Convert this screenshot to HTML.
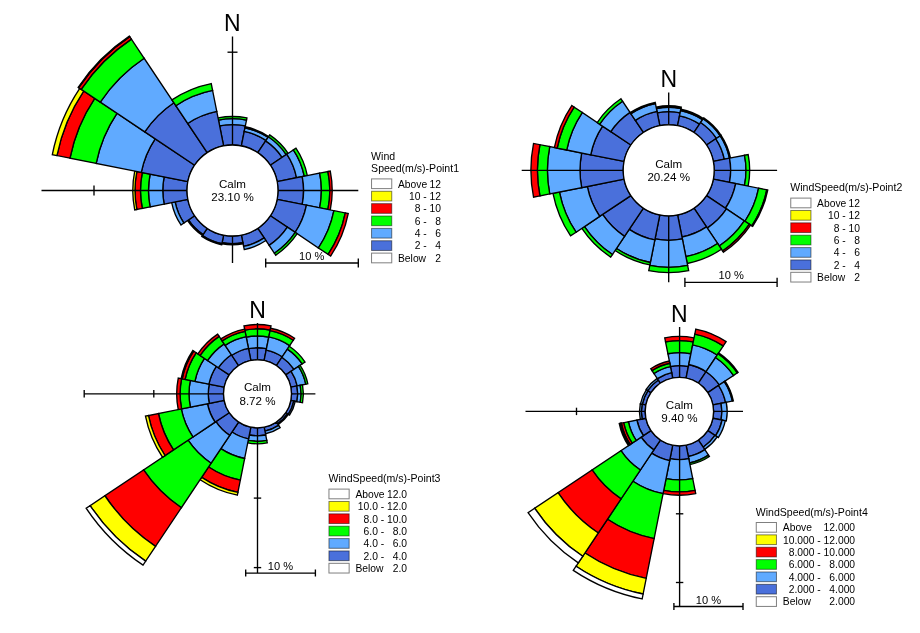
<!DOCTYPE html><html><head><meta charset="utf-8"><title>Wind roses</title>
<style>html,body{margin:0;padding:0;background:#fff}svg{display:block}</style></head><body>
<svg width="920" height="633" viewBox="0 0 920 633">
<rect width="920" height="633" fill="#fff"/>
<g stroke="#000" stroke-width="1.35" stroke-linejoin="miter" fill="none">
<path d="M223.62 145.87L219.66 125.96A65.80 65.80 0 0 1 245.34 125.96L241.38 145.87A45.50 45.50 0 0 0 223.62 145.87Z" fill="#4a70db"/>
<path d="M219.66 125.96L218.49 120.08A71.80 71.80 0 0 1 246.51 120.08L245.34 125.96A65.80 65.80 0 0 0 219.66 125.96Z" fill="#60aaff"/>
<path d="M218.49 120.08L218.06 117.92A74.00 74.00 0 0 1 246.94 117.92L246.51 120.08A71.80 71.80 0 0 0 218.49 120.08Z" fill="#00ff00"/>
<path d="M241.38 145.87L244.26 131.36A60.30 60.30 0 0 1 266.00 140.36L257.78 152.67A45.50 45.50 0 0 0 241.38 145.87Z" fill="#4a70db"/>
<path d="M244.26 131.36L244.99 127.73A64.00 64.00 0 0 1 268.06 137.29L266.00 140.36A60.30 60.30 0 0 0 244.26 131.36Z" fill="#60aaff"/>
<path d="M244.99 127.73L245.18 126.75A65.00 65.00 0 0 1 268.61 136.45L268.06 137.29A64.00 64.00 0 0 0 244.99 127.73Z" fill="#00ff00"/>
<path d="M257.78 152.67L265.67 140.86A59.70 59.70 0 0 1 282.14 157.33L270.33 165.22A45.50 45.50 0 0 0 257.78 152.67Z" fill="#4a70db"/>
<path d="M265.67 140.86L268.39 136.79A64.60 64.60 0 0 1 286.21 154.61L282.14 157.33A59.70 59.70 0 0 0 265.67 140.86Z" fill="#60aaff"/>
<path d="M268.39 136.79L269.67 134.87A66.90 66.90 0 0 1 288.13 153.33L286.21 154.61A64.60 64.60 0 0 0 268.39 136.79Z" fill="#00ff00"/>
<path d="M270.33 165.22L286.79 154.22A65.30 65.30 0 0 1 296.55 177.76L277.13 181.62A45.50 45.50 0 0 0 270.33 165.22Z" fill="#4a70db"/>
<path d="M286.79 154.22L293.36 149.83A73.20 73.20 0 0 1 304.29 176.22L296.55 177.76A65.30 65.30 0 0 0 286.79 154.22Z" fill="#60aaff"/>
<path d="M293.36 149.83L295.94 148.11A76.30 76.30 0 0 1 307.33 175.61L304.29 176.22A73.20 73.20 0 0 0 293.36 149.83Z" fill="#00ff00"/>
<path d="M277.13 181.62L302.23 176.63A71.10 71.10 0 0 1 302.23 204.37L277.13 199.38A45.50 45.50 0 0 0 277.13 181.62Z" fill="#4a70db"/>
<path d="M302.23 176.63L319.69 173.16A88.90 88.90 0 0 1 319.69 207.84L302.23 204.37A71.10 71.10 0 0 0 302.23 176.63Z" fill="#60aaff"/>
<path d="M319.69 173.16L327.93 171.52A97.30 97.30 0 0 1 327.93 209.48L319.69 207.84A88.90 88.90 0 0 0 319.69 173.16Z" fill="#00ff00"/>
<path d="M327.93 171.52L330.28 171.05A99.70 99.70 0 0 1 330.28 209.95L327.93 209.48A97.30 97.30 0 0 0 327.93 171.52Z" fill="#ff0000"/>
<path d="M277.13 199.38L306.45 205.21A75.40 75.40 0 0 1 295.19 232.39L270.33 215.78A45.50 45.50 0 0 0 277.13 199.38Z" fill="#4a70db"/>
<path d="M306.45 205.21L333.91 210.67A103.40 103.40 0 0 1 318.47 247.95L295.19 232.39A75.40 75.40 0 0 0 306.45 205.21Z" fill="#60aaff"/>
<path d="M333.91 210.67L345.29 212.94A115.00 115.00 0 0 1 328.12 254.39L318.47 247.95A103.40 103.40 0 0 0 333.91 210.67Z" fill="#00ff00"/>
<path d="M345.29 212.94L348.23 213.52A118.00 118.00 0 0 1 330.61 256.06L328.12 254.39A115.00 115.00 0 0 0 345.29 212.94Z" fill="#ff0000"/>
<path d="M270.33 215.78L287.38 227.17A66.00 66.00 0 0 1 269.17 245.38L257.78 228.33A45.50 45.50 0 0 0 270.33 215.78Z" fill="#4a70db"/>
<path d="M287.38 227.17L295.28 232.45A75.50 75.50 0 0 1 274.45 253.28L269.17 245.38A66.00 66.00 0 0 0 287.38 227.17Z" fill="#60aaff"/>
<path d="M295.28 232.45L297.19 233.72A77.80 77.80 0 0 1 275.72 255.19L274.45 253.28A75.50 75.50 0 0 0 295.28 232.45Z" fill="#00ff00"/>
<path d="M257.78 228.33L264.17 237.89A57.00 57.00 0 0 1 243.62 246.40L241.38 235.13A45.50 45.50 0 0 0 257.78 228.33Z" fill="#4a70db"/>
<path d="M264.17 237.89L265.95 240.55A60.20 60.20 0 0 1 244.24 249.54L243.62 246.40A57.00 57.00 0 0 0 264.17 237.89Z" fill="#60aaff"/>
<path d="M241.38 235.13L242.88 242.68A53.20 53.20 0 0 1 222.12 242.68L223.62 235.13A45.50 45.50 0 0 0 241.38 235.13Z" fill="#4a70db"/>
<path d="M242.88 242.68L243.11 243.85A54.40 54.40 0 0 1 221.89 243.85L222.12 242.68A53.20 53.20 0 0 0 242.88 242.68Z" fill="#60aaff"/>
<path d="M223.62 235.13L221.93 243.66A54.20 54.20 0 0 1 202.39 235.57L207.22 228.33A45.50 45.50 0 0 0 223.62 235.13Z" fill="#4a70db"/>
<path d="M221.93 243.66L221.71 244.74A55.30 55.30 0 0 1 201.78 236.48L202.39 235.57A54.20 54.20 0 0 0 221.93 243.66Z" fill="#60aaff"/>
<path d="M207.22 228.33L203.05 234.57A53.00 53.00 0 0 1 188.43 219.95L194.67 215.78A45.50 45.50 0 0 0 207.22 228.33Z" fill="#4a70db"/>
<path d="M203.05 234.57L202.50 235.40A54.00 54.00 0 0 1 187.60 220.50L188.43 219.95A53.00 53.00 0 0 0 203.05 234.57Z" fill="#60aaff"/>
<path d="M194.67 215.78L183.86 223.00A58.50 58.50 0 0 1 175.12 201.91L187.87 199.38A45.50 45.50 0 0 0 194.67 215.78Z" fill="#4a70db"/>
<path d="M183.86 223.00L180.95 224.95A62.00 62.00 0 0 1 171.69 202.60L175.12 201.91A58.50 58.50 0 0 0 183.86 223.00Z" fill="#60aaff"/>
<path d="M187.87 199.38L164.14 204.10A69.70 69.70 0 0 1 164.14 176.90L187.87 181.62A45.50 45.50 0 0 0 187.87 199.38Z" fill="#4a70db"/>
<path d="M164.14 204.10L150.11 206.89A84.00 84.00 0 0 1 150.11 174.11L164.14 176.90A69.70 69.70 0 0 0 164.14 204.10Z" fill="#60aaff"/>
<path d="M150.11 206.89L142.27 208.45A92.00 92.00 0 0 1 142.27 172.55L150.11 174.11A84.00 84.00 0 0 0 150.11 206.89Z" fill="#00ff00"/>
<path d="M142.27 208.45L136.87 209.52A97.50 97.50 0 0 1 136.87 171.48L142.27 172.55A92.00 92.00 0 0 0 142.27 208.45Z" fill="#ff0000"/>
<path d="M136.87 209.52L134.72 209.95A99.70 99.70 0 0 1 134.72 171.05L136.87 171.48A97.50 97.50 0 0 0 136.87 209.52Z" fill="#ffff00"/>
<path d="M187.87 181.62L141.29 172.36A93.00 93.00 0 0 1 155.17 138.83L194.67 165.22A45.50 45.50 0 0 0 187.87 181.62Z" fill="#4a70db"/>
<path d="M141.29 172.36L96.17 163.38A139.00 139.00 0 0 1 116.93 113.28L155.17 138.83A93.00 93.00 0 0 0 141.29 172.36Z" fill="#60aaff"/>
<path d="M96.17 163.38L69.98 158.17A165.70 165.70 0 0 1 94.73 98.44L116.93 113.28A139.00 139.00 0 0 0 96.17 163.38Z" fill="#00ff00"/>
<path d="M69.98 158.17L56.94 155.58A179.00 179.00 0 0 1 83.67 91.05L94.73 98.44A165.70 165.70 0 0 0 69.98 158.17Z" fill="#ff0000"/>
<path d="M56.94 155.58L52.33 154.66A183.70 183.70 0 0 1 79.76 88.44L83.67 91.05A179.00 179.00 0 0 0 56.94 155.58Z" fill="#ffff00"/>
<path d="M194.67 165.22L144.78 131.89A105.50 105.50 0 0 1 173.89 102.78L207.22 152.67A45.50 45.50 0 0 0 194.67 165.22Z" fill="#4a70db"/>
<path d="M144.78 131.89L100.30 102.16A159.00 159.00 0 0 1 144.16 58.30L173.89 102.78A105.50 105.50 0 0 0 144.78 131.89Z" fill="#60aaff"/>
<path d="M100.30 102.16L81.17 89.39A182.00 182.00 0 0 1 131.39 39.17L144.16 58.30A159.00 159.00 0 0 0 100.30 102.16Z" fill="#00ff00"/>
<path d="M81.17 89.39L78.68 87.72A185.00 185.00 0 0 1 129.72 36.68L131.39 39.17A182.00 182.00 0 0 0 81.17 89.39Z" fill="#ff0000"/>
<path d="M78.68 87.72L78.18 87.39A185.60 185.60 0 0 1 129.39 36.18L129.72 36.68A185.00 185.00 0 0 0 78.68 87.72Z" fill="#ffff00"/>
<path d="M207.22 152.67L187.72 123.48A80.60 80.60 0 0 1 216.78 111.45L223.62 145.87A45.50 45.50 0 0 0 207.22 152.67Z" fill="#4a70db"/>
<path d="M187.72 123.48L175.83 105.69A102.00 102.00 0 0 1 212.60 90.46L216.78 111.45A80.60 80.60 0 0 0 187.72 123.48Z" fill="#60aaff"/>
<path d="M175.83 105.69L171.94 99.87A109.00 109.00 0 0 1 211.24 83.59L212.60 90.46A102.00 102.00 0 0 0 175.83 105.69Z" fill="#00ff00"/>
<path d="M41.5 190.5H358.3M232.5 36.4V263"/>
<path d="M94 185.5V195.5"/>
<path d="M227.5 52.2H237.5"/>
<path d="M265.7 263.0H358.3M265.7 258.4V267.6M358.3 258.4V267.6"/>
<circle cx="232.5" cy="190.5" r="45.5" fill="#fff"/>
</g>
<g font-family="Liberation Sans, Arial, sans-serif" fill="#000" text-anchor="middle">
<text x="232.3" y="31.1" font-size="23">N</text>
<text x="232.5" y="187.9" font-size="11.6">Calm</text>
<text x="232.5" y="201.3" font-size="11.6">23.10 %</text>
<text x="311.7" y="260.0" font-size="11.1">10 %</text>
</g>
<g stroke="#000" stroke-width="1.35" stroke-linejoin="miter" fill="none">
<path d="M659.82 125.67L657.27 112.83A58.60 58.60 0 0 1 680.13 112.83L677.58 125.67A45.50 45.50 0 0 0 659.82 125.67Z" fill="#4a70db"/>
<path d="M657.27 112.83L656.41 108.51A63.00 63.00 0 0 1 680.99 108.51L680.13 112.83A58.60 58.60 0 0 0 657.27 112.83Z" fill="#60aaff"/>
<path d="M656.41 108.51L656.12 107.04A64.50 64.50 0 0 1 681.28 107.04L680.99 108.51A63.00 63.00 0 0 0 656.41 108.51Z" fill="#00ff00"/>
<path d="M677.58 125.67L679.53 115.87A55.50 55.50 0 0 1 699.53 124.15L693.98 132.47A45.50 45.50 0 0 0 677.58 125.67Z" fill="#4a70db"/>
<path d="M679.53 115.87L680.60 110.47A61.00 61.00 0 0 1 702.59 119.58L699.53 124.15A55.50 55.50 0 0 0 679.53 115.87Z" fill="#60aaff"/>
<path d="M680.60 110.47L680.85 109.20A62.30 62.30 0 0 1 703.31 118.50L702.59 119.58A61.00 61.00 0 0 0 680.60 110.47Z" fill="#00ff00"/>
<path d="M693.98 132.47L700.65 122.49A57.50 57.50 0 0 1 716.51 138.35L706.53 145.02A45.50 45.50 0 0 0 693.98 132.47Z" fill="#4a70db"/>
<path d="M700.65 122.49L703.15 118.75A62.00 62.00 0 0 1 720.25 135.85L716.51 138.35A57.50 57.50 0 0 0 700.65 122.49Z" fill="#60aaff"/>
<path d="M703.15 118.75L703.70 117.92A63.00 63.00 0 0 1 721.08 135.30L720.25 135.85A62.00 62.00 0 0 0 703.15 118.75Z" fill="#00ff00"/>
<path d="M706.53 145.02L715.84 138.80A56.70 56.70 0 0 1 724.31 159.24L713.33 161.42A45.50 45.50 0 0 0 706.53 145.02Z" fill="#4a70db"/>
<path d="M715.84 138.80L720.25 135.85A62.00 62.00 0 0 1 729.51 158.20L724.31 159.24A56.70 56.70 0 0 0 715.84 138.80Z" fill="#60aaff"/>
<path d="M720.25 135.85L721.08 135.30A63.00 63.00 0 0 1 730.49 158.01L729.51 158.20A62.00 62.00 0 0 0 720.25 135.85Z" fill="#00ff00"/>
<path d="M713.33 161.42L729.51 158.20A62.00 62.00 0 0 1 729.51 182.40L713.33 179.18A45.50 45.50 0 0 0 713.33 161.42Z" fill="#4a70db"/>
<path d="M729.51 158.20L744.51 155.22A77.30 77.30 0 0 1 744.51 185.38L729.51 182.40A62.00 62.00 0 0 0 729.51 158.20Z" fill="#60aaff"/>
<path d="M744.51 155.22L748.14 154.50A81.00 81.00 0 0 1 748.14 186.10L744.51 185.38A77.30 77.30 0 0 0 744.51 155.22Z" fill="#00ff00"/>
<path d="M713.33 179.18L735.69 183.62A68.30 68.30 0 0 1 725.49 208.25L706.53 195.58A45.50 45.50 0 0 0 713.33 179.18Z" fill="#4a70db"/>
<path d="M735.69 183.62L758.64 188.19A91.70 91.70 0 0 1 744.95 221.25L725.49 208.25A68.30 68.30 0 0 0 735.69 183.62Z" fill="#60aaff"/>
<path d="M758.64 188.19L766.78 189.81A100.00 100.00 0 0 1 751.85 225.86L744.95 221.25A91.70 91.70 0 0 0 758.64 188.19Z" fill="#00ff00"/>
<path d="M766.78 189.81L767.76 190.00A101.00 101.00 0 0 1 752.68 226.41L751.85 225.86A100.00 100.00 0 0 0 766.78 189.81Z" fill="#ff0000"/>
<path d="M706.53 195.58L726.49 208.91A69.50 69.50 0 0 1 707.31 228.09L693.98 208.13A45.50 45.50 0 0 0 706.53 195.58Z" fill="#4a70db"/>
<path d="M726.49 208.91L744.36 220.86A91.00 91.00 0 0 1 719.26 245.96L707.31 228.09A69.50 69.50 0 0 0 726.49 208.91Z" fill="#60aaff"/>
<path d="M744.36 220.86L749.35 224.19A97.00 97.00 0 0 1 722.59 250.95L719.26 245.96A91.00 91.00 0 0 0 744.36 220.86Z" fill="#00ff00"/>
<path d="M749.35 224.19L750.60 225.02A98.50 98.50 0 0 1 723.42 252.20L722.59 250.95A97.00 97.00 0 0 0 749.35 224.19Z" fill="#ff0000"/>
<path d="M693.98 208.13L706.48 226.84A68.00 68.00 0 0 1 681.97 236.99L677.58 214.93A45.50 45.50 0 0 0 693.98 208.13Z" fill="#4a70db"/>
<path d="M706.48 226.84L717.59 243.47A88.00 88.00 0 0 1 685.87 256.61L681.97 236.99A68.00 68.00 0 0 0 706.48 226.84Z" fill="#60aaff"/>
<path d="M717.59 243.47L721.48 249.29A95.00 95.00 0 0 1 687.23 263.47L685.87 256.61A88.00 88.00 0 0 0 717.59 243.47Z" fill="#00ff00"/>
<path d="M677.58 214.93L682.36 238.95A70.00 70.00 0 0 1 655.04 238.95L659.82 214.93A45.50 45.50 0 0 0 677.58 214.93Z" fill="#4a70db"/>
<path d="M682.36 238.95L687.62 265.44A97.00 97.00 0 0 1 649.78 265.44L655.04 238.95A70.00 70.00 0 0 0 682.36 238.95Z" fill="#60aaff"/>
<path d="M687.62 265.44L688.66 270.63A102.30 102.30 0 0 1 648.74 270.63L649.78 265.44A97.00 97.00 0 0 0 687.62 265.44Z" fill="#00ff00"/>
<path d="M659.82 214.93L654.85 239.94A71.00 71.00 0 0 1 629.25 229.33L643.42 208.13A45.50 45.50 0 0 0 659.82 214.93Z" fill="#4a70db"/>
<path d="M654.85 239.94L650.36 262.49A94.00 94.00 0 0 1 616.48 248.46L629.25 229.33A71.00 71.00 0 0 0 654.85 239.94Z" fill="#60aaff"/>
<path d="M650.36 262.49L649.87 264.95A96.50 96.50 0 0 1 615.09 250.54L616.48 248.46A94.00 94.00 0 0 0 650.36 262.49Z" fill="#00ff00"/>
<path d="M643.42 208.13L624.53 236.40A79.50 79.50 0 0 1 602.60 214.47L630.87 195.58A45.50 45.50 0 0 0 643.42 208.13Z" fill="#4a70db"/>
<path d="M624.53 236.40L612.42 254.53A101.30 101.30 0 0 1 584.47 226.58L602.60 214.47A79.50 79.50 0 0 0 624.53 236.40Z" fill="#60aaff"/>
<path d="M612.42 254.53L610.70 257.11A104.40 104.40 0 0 1 581.89 228.30L584.47 226.58A101.30 101.30 0 0 0 612.42 254.53Z" fill="#00ff00"/>
<path d="M630.87 195.58L599.69 216.41A83.00 83.00 0 0 1 587.29 186.49L624.07 179.18A45.50 45.50 0 0 0 630.87 195.58Z" fill="#4a70db"/>
<path d="M599.69 216.41L576.07 232.19A111.40 111.40 0 0 1 559.44 192.03L587.29 186.49A83.00 83.00 0 0 0 599.69 216.41Z" fill="#60aaff"/>
<path d="M576.07 232.19L570.59 235.86A118.00 118.00 0 0 1 552.97 193.32L559.44 192.03A111.40 111.40 0 0 0 576.07 232.19Z" fill="#00ff00"/>
<path d="M624.07 179.18L581.70 187.60A88.70 88.70 0 0 1 581.70 153.00L624.07 161.42A45.50 45.50 0 0 0 624.07 179.18Z" fill="#4a70db"/>
<path d="M581.70 187.60L549.73 193.96A121.30 121.30 0 0 1 549.73 146.64L581.70 153.00A88.70 88.70 0 0 0 581.70 187.60Z" fill="#60aaff"/>
<path d="M549.73 193.96L539.92 195.92A131.30 131.30 0 0 1 539.92 144.68L549.73 146.64A121.30 121.30 0 0 0 549.73 193.96Z" fill="#00ff00"/>
<path d="M539.92 195.92L533.55 197.18A137.80 137.80 0 0 1 533.55 143.42L539.92 144.68A131.30 131.30 0 0 0 539.92 195.92Z" fill="#ff0000"/>
<path d="M624.07 161.42L590.73 154.79A79.50 79.50 0 0 1 602.60 126.13L630.87 145.02A45.50 45.50 0 0 0 624.07 161.42Z" fill="#4a70db"/>
<path d="M590.73 154.79L566.70 150.01A104.00 104.00 0 0 1 582.23 112.52L602.60 126.13A79.50 79.50 0 0 0 590.73 154.79Z" fill="#60aaff"/>
<path d="M566.70 150.01L557.18 148.12A113.70 113.70 0 0 1 574.16 107.13L582.23 112.52A104.00 104.00 0 0 0 566.70 150.01Z" fill="#00ff00"/>
<path d="M557.18 148.12L554.34 147.55A116.60 116.60 0 0 1 571.75 105.52L574.16 107.13A113.70 113.70 0 0 0 557.18 148.12Z" fill="#ff0000"/>
<path d="M630.87 145.02L610.75 131.58A69.70 69.70 0 0 1 629.98 112.35L643.42 132.47A45.50 45.50 0 0 0 630.87 145.02Z" fill="#4a70db"/>
<path d="M610.75 131.58L599.69 124.19A83.00 83.00 0 0 1 622.59 101.29L629.98 112.35A69.70 69.70 0 0 0 610.75 131.58Z" fill="#60aaff"/>
<path d="M599.69 124.19L597.19 122.52A86.00 86.00 0 0 1 620.92 98.79L622.59 101.29A83.00 83.00 0 0 0 599.69 124.19Z" fill="#00ff00"/>
<path d="M643.42 132.47L635.37 120.41A60.00 60.00 0 0 1 656.99 111.45L659.82 125.67A45.50 45.50 0 0 0 643.42 132.47Z" fill="#4a70db"/>
<path d="M635.37 120.41L630.92 113.76A68.00 68.00 0 0 1 655.43 103.61L656.99 111.45A60.00 60.00 0 0 0 635.37 120.41Z" fill="#60aaff"/>
<path d="M630.92 113.76L630.20 112.68A69.30 69.30 0 0 1 655.18 102.33L655.43 103.61A68.00 68.00 0 0 0 630.92 113.76Z" fill="#00ff00"/>
<path d="M521.7 170.3H777.1M668.7 92.6V282.3"/>
<path d="M684.9 282.3H777.1M684.9 277.7V286.90000000000003M777.1 277.7V286.90000000000003"/>
<circle cx="668.7" cy="170.3" r="45.5" fill="#fff"/>
</g>
<g font-family="Liberation Sans, Arial, sans-serif" fill="#000" text-anchor="middle">
<text x="668.8" y="86.7" font-size="23">N</text>
<text x="668.7" y="167.7" font-size="11.6">Calm</text>
<text x="668.7" y="181.1" font-size="11.6">20.24 %</text>
<text x="731.2" y="279.4" font-size="11.1">10 %</text>
</g>
<g stroke="#000" stroke-width="1.35" stroke-linejoin="miter" fill="none">
<path d="M250.87 360.45L248.53 348.68A46.00 46.00 0 0 1 266.47 348.68L264.13 360.45A34.00 34.00 0 0 0 250.87 360.45Z" fill="#4a70db"/>
<path d="M248.53 348.68L246.22 337.11A57.80 57.80 0 0 1 268.78 337.11L266.47 348.68A46.00 46.00 0 0 0 248.53 348.68Z" fill="#60aaff"/>
<path d="M246.22 337.11L244.82 330.05A65.00 65.00 0 0 1 270.18 330.05L268.78 337.11A57.80 57.80 0 0 0 246.22 337.11Z" fill="#00ff00"/>
<path d="M244.82 330.05L243.98 325.83A69.30 69.30 0 0 1 271.02 325.83L270.18 330.05A65.00 65.00 0 0 0 244.82 330.05Z" fill="#ff0000"/>
<path d="M264.13 360.45L266.18 350.16A44.50 44.50 0 0 1 282.22 356.80L276.39 365.53A34.00 34.00 0 0 0 264.13 360.45Z" fill="#4a70db"/>
<path d="M266.18 350.16L268.82 336.91A58.00 58.00 0 0 1 289.72 345.57L282.22 356.80A44.50 44.50 0 0 0 266.18 350.16Z" fill="#60aaff"/>
<path d="M268.82 336.91L270.06 330.64A64.40 64.40 0 0 1 293.28 340.25L289.72 345.57A58.00 58.00 0 0 0 268.82 336.91Z" fill="#00ff00"/>
<path d="M270.06 330.64L270.53 328.28A66.80 66.80 0 0 1 294.61 338.26L293.28 340.25A64.40 64.40 0 0 0 270.06 330.64Z" fill="#ff0000"/>
<path d="M276.39 365.53L281.95 357.22A44.00 44.00 0 0 1 294.08 369.35L285.77 374.91A34.00 34.00 0 0 0 276.39 365.53Z" fill="#4a70db"/>
<path d="M281.95 357.22L287.39 349.07A53.80 53.80 0 0 1 302.23 363.91L294.08 369.35A44.00 44.00 0 0 0 281.95 357.22Z" fill="#60aaff"/>
<path d="M287.39 349.07L289.28 346.24A57.20 57.20 0 0 1 305.06 362.02L302.23 363.91A53.80 53.80 0 0 0 287.39 349.07Z" fill="#00ff00"/>
<path d="M285.77 374.91L291.17 371.30A40.50 40.50 0 0 1 297.22 385.90L290.85 387.17A34.00 34.00 0 0 0 285.77 374.91Z" fill="#4a70db"/>
<path d="M291.17 371.30L298.41 366.47A49.20 49.20 0 0 1 305.75 384.20L297.22 385.90A40.50 40.50 0 0 0 291.17 371.30Z" fill="#60aaff"/>
<path d="M298.41 366.47L300.15 365.30A51.30 51.30 0 0 1 307.81 383.79L305.75 384.20A49.20 49.20 0 0 0 298.41 366.47Z" fill="#00ff00"/>
<path d="M290.85 387.17L296.93 385.96A40.20 40.20 0 0 1 296.93 401.64L290.85 400.43A34.00 34.00 0 0 0 290.85 387.17Z" fill="#4a70db"/>
<path d="M296.93 385.96L300.26 385.29A43.60 43.60 0 0 1 300.26 402.31L296.93 401.64A40.20 40.20 0 0 0 296.93 385.96Z" fill="#60aaff"/>
<path d="M300.26 385.29L302.52 384.85A45.90 45.90 0 0 1 302.52 402.75L300.26 402.31A43.60 43.60 0 0 0 300.26 385.29Z" fill="#00ff00"/>
<path d="M290.85 400.43L293.79 401.02A37.00 37.00 0 0 1 288.26 414.36L285.77 412.69A34.00 34.00 0 0 0 290.85 400.43Z" fill="#4a70db"/>
<path d="M293.79 401.02L295.26 401.31A38.50 38.50 0 0 1 289.51 415.19L288.26 414.36A37.00 37.00 0 0 0 293.79 401.02Z" fill="#60aaff"/>
<path d="M285.77 412.69L287.43 413.80A36.00 36.00 0 0 1 277.50 423.73L276.39 422.07A34.00 34.00 0 0 0 285.77 412.69Z" fill="#4a70db"/>
<path d="M287.43 413.80L288.43 414.47A37.20 37.20 0 0 1 278.17 424.73L277.50 423.73A36.00 36.00 0 0 0 287.43 413.80Z" fill="#60aaff"/>
<path d="M276.39 422.07L278.61 425.40A38.00 38.00 0 0 1 264.91 431.07L264.13 427.15A34.00 34.00 0 0 0 276.39 422.07Z" fill="#4a70db"/>
<path d="M278.61 425.40L280.11 427.64A40.70 40.70 0 0 1 265.44 433.72L264.91 431.07A38.00 38.00 0 0 0 278.61 425.40Z" fill="#60aaff"/>
<path d="M264.13 427.15L265.69 434.99A42.00 42.00 0 0 1 249.31 434.99L250.87 427.15A34.00 34.00 0 0 0 264.13 427.15Z" fill="#4a70db"/>
<path d="M265.69 434.99L266.77 440.39A47.50 47.50 0 0 1 248.23 440.39L249.31 434.99A42.00 42.00 0 0 0 265.69 434.99Z" fill="#60aaff"/>
<path d="M266.77 440.39L267.25 442.84A50.00 50.00 0 0 1 247.75 442.84L248.23 440.39A47.50 47.50 0 0 0 266.77 440.39Z" fill="#00ff00"/>
<path d="M250.87 427.15L248.53 438.92A46.00 46.00 0 0 1 231.94 432.05L238.61 422.07A34.00 34.00 0 0 0 250.87 427.15Z" fill="#4a70db"/>
<path d="M248.53 438.92L244.62 458.53A66.00 66.00 0 0 1 220.83 448.68L231.94 432.05A46.00 46.00 0 0 0 248.53 438.92Z" fill="#60aaff"/>
<path d="M244.62 458.53L240.33 480.11A88.00 88.00 0 0 1 208.61 466.97L220.83 448.68A66.00 66.00 0 0 0 244.62 458.53Z" fill="#00ff00"/>
<path d="M240.33 480.11L237.89 492.37A100.50 100.50 0 0 1 201.67 477.36L208.61 466.97A88.00 88.00 0 0 0 240.33 480.11Z" fill="#ff0000"/>
<path d="M237.89 492.37L237.35 495.12A103.30 103.30 0 0 1 200.11 479.69L201.67 477.36A100.50 100.50 0 0 0 237.89 492.37Z" fill="#ffff00"/>
<path d="M238.61 422.07L229.72 435.37A50.00 50.00 0 0 1 215.93 421.58L229.23 412.69A34.00 34.00 0 0 0 238.61 422.07Z" fill="#4a70db"/>
<path d="M229.72 435.37L211.11 463.23A83.50 83.50 0 0 1 188.07 440.19L215.93 421.58A50.00 50.00 0 0 0 229.72 435.37Z" fill="#60aaff"/>
<path d="M211.11 463.23L181.39 507.71A137.00 137.00 0 0 1 143.59 469.91L188.07 440.19A83.50 83.50 0 0 0 211.11 463.23Z" fill="#00ff00"/>
<path d="M181.39 507.71L155.55 546.37A183.50 183.50 0 0 1 104.93 495.75L143.59 469.91A137.00 137.00 0 0 0 181.39 507.71Z" fill="#ff0000"/>
<path d="M155.55 546.37L145.66 561.17A201.30 201.30 0 0 1 90.13 505.64L104.93 495.75A183.50 183.50 0 0 0 155.55 546.37Z" fill="#ffff00"/>
<path d="M145.66 561.17L143.05 565.08A206.00 206.00 0 0 1 86.22 508.25L90.13 505.64A201.30 201.30 0 0 0 145.66 561.17Z" fill="#ffffff"/>
<path d="M229.23 412.69L215.10 422.13A51.00 51.00 0 0 1 207.48 403.75L224.15 400.43A34.00 34.00 0 0 0 229.23 412.69Z" fill="#4a70db"/>
<path d="M215.10 422.13L192.89 436.97A77.70 77.70 0 0 1 181.29 408.96L207.48 403.75A51.00 51.00 0 0 0 215.10 422.13Z" fill="#60aaff"/>
<path d="M192.89 436.97L173.52 449.91A101.00 101.00 0 0 1 158.44 413.50L181.29 408.96A77.70 77.70 0 0 0 192.89 436.97Z" fill="#00ff00"/>
<path d="M173.52 449.91L165.04 455.58A111.20 111.20 0 0 1 148.44 415.49L158.44 413.50A101.00 101.00 0 0 0 173.52 449.91Z" fill="#ff0000"/>
<path d="M165.04 455.58L162.55 457.25A114.20 114.20 0 0 1 145.49 416.08L148.44 415.49A111.20 111.20 0 0 0 165.04 455.58Z" fill="#ffff00"/>
<path d="M224.15 400.43L209.25 403.40A49.20 49.20 0 0 1 209.25 384.20L224.15 387.17A34.00 34.00 0 0 0 224.15 400.43Z" fill="#4a70db"/>
<path d="M209.25 403.40L190.32 407.16A68.50 68.50 0 0 1 190.32 380.44L209.25 384.20A49.20 49.20 0 0 0 209.25 403.40Z" fill="#60aaff"/>
<path d="M190.32 407.16L181.59 408.90A77.40 77.40 0 0 1 181.59 378.70L190.32 380.44A68.50 68.50 0 0 0 190.32 407.16Z" fill="#00ff00"/>
<path d="M181.59 408.90L178.25 409.56A80.80 80.80 0 0 1 178.25 378.04L181.59 378.70A77.40 77.40 0 0 0 181.59 408.90Z" fill="#ff0000"/>
<path d="M224.15 387.17L208.95 384.14A49.50 49.50 0 0 1 216.34 366.30L229.23 374.91A34.00 34.00 0 0 0 224.15 387.17Z" fill="#4a70db"/>
<path d="M208.95 384.14L194.93 381.35A63.80 63.80 0 0 1 204.45 358.35L216.34 366.30A49.50 49.50 0 0 0 208.95 384.14Z" fill="#60aaff"/>
<path d="M194.93 381.35L185.12 379.40A73.80 73.80 0 0 1 196.14 352.80L204.45 358.35A63.80 63.80 0 0 0 194.93 381.35Z" fill="#00ff00"/>
<path d="M185.12 379.40L182.18 378.82A76.80 76.80 0 0 1 193.64 351.13L196.14 352.80A73.80 73.80 0 0 0 185.12 379.40Z" fill="#ff0000"/>
<path d="M182.18 378.82L181.10 378.60A77.90 77.90 0 0 1 192.73 350.52L193.64 351.13A76.80 76.80 0 0 0 182.18 378.82Z" fill="#ffff00"/>
<path d="M229.23 374.91L218.42 367.69A47.00 47.00 0 0 1 231.39 354.72L238.61 365.53A34.00 34.00 0 0 0 229.23 374.91Z" fill="#4a70db"/>
<path d="M218.42 367.69L207.61 360.47A60.00 60.00 0 0 1 224.17 343.91L231.39 354.72A47.00 47.00 0 0 0 218.42 367.69Z" fill="#60aaff"/>
<path d="M207.61 360.47L200.13 355.47A69.00 69.00 0 0 1 219.17 336.43L224.17 343.91A60.00 60.00 0 0 0 207.61 360.47Z" fill="#00ff00"/>
<path d="M200.13 355.47L197.88 353.97A71.70 71.70 0 0 1 217.67 334.18L219.17 336.43A69.00 69.00 0 0 0 200.13 355.47Z" fill="#ff0000"/>
<path d="M238.61 365.53L231.78 355.30A46.30 46.30 0 0 1 248.47 348.39L250.87 360.45A34.00 34.00 0 0 0 238.61 365.53Z" fill="#4a70db"/>
<path d="M231.78 355.30L225.11 345.33A58.30 58.30 0 0 1 246.13 336.62L248.47 348.39A46.30 46.30 0 0 0 231.78 355.30Z" fill="#60aaff"/>
<path d="M225.11 345.33L222.11 340.84A63.70 63.70 0 0 1 245.07 331.32L246.13 336.62A58.30 58.30 0 0 0 225.11 345.33Z" fill="#00ff00"/>
<path d="M222.11 340.84L220.83 338.92A66.00 66.00 0 0 1 244.62 329.07L245.07 331.32A63.70 63.70 0 0 0 222.11 340.84Z" fill="#ff0000"/>
<path d="M84.2 393.8H315.4M257.5 323.1V573.1"/>
<path d="M84.2 390.1V397.5"/>
<path d="M153.8 390.1V397.5"/>
<path d="M253.8 498.1H261.2"/>
<path d="M253.8 567.6H261.2"/>
<path d="M245.7 573.1H315.4M245.7 569.6V576.6M315.4 569.6V576.6"/>
<circle cx="257.5" cy="393.8" r="34" fill="#fff"/>
</g>
<g font-family="Liberation Sans, Arial, sans-serif" fill="#000" text-anchor="middle">
<text x="257.6" y="317.6" font-size="23">N</text>
<text x="257.5" y="391.2" font-size="11.6">Calm</text>
<text x="257.5" y="404.6" font-size="11.6">8.72 %</text>
<text x="280.4" y="570.2" font-size="11.1">10 %</text>
</g>
<g stroke="#000" stroke-width="1.35" stroke-linejoin="miter" fill="none">
<path d="M672.73 378.06L670.43 366.48A46.00 46.00 0 0 1 688.37 366.48L686.07 378.06A34.20 34.20 0 0 0 672.73 378.06Z" fill="#4a70db"/>
<path d="M670.43 366.48L667.89 353.73A59.00 59.00 0 0 1 690.91 353.73L688.37 366.48A46.00 46.00 0 0 0 670.43 366.48Z" fill="#60aaff"/>
<path d="M667.89 353.73L665.55 341.96A71.00 71.00 0 0 1 693.25 341.96L690.91 353.73A59.00 59.00 0 0 0 667.89 353.73Z" fill="#00ff00"/>
<path d="M665.55 341.96L664.73 337.84A75.20 75.20 0 0 1 694.07 337.84L693.25 341.96A71.00 71.00 0 0 0 665.55 341.96Z" fill="#ff0000"/>
<path d="M686.07 378.06L688.76 364.52A48.00 48.00 0 0 1 706.07 371.69L698.40 383.16A34.20 34.20 0 0 0 686.07 378.06Z" fill="#4a70db"/>
<path d="M688.76 364.52L692.67 344.91A68.00 68.00 0 0 1 717.18 355.06L706.07 371.69A48.00 48.00 0 0 0 688.76 364.52Z" fill="#60aaff"/>
<path d="M692.67 344.91L694.81 334.12A79.00 79.00 0 0 1 723.29 345.91L717.18 355.06A68.00 68.00 0 0 0 692.67 344.91Z" fill="#00ff00"/>
<path d="M694.81 334.12L695.81 329.12A84.10 84.10 0 0 1 726.12 341.67L723.29 345.91A79.00 79.00 0 0 0 694.81 334.12Z" fill="#ff0000"/>
<path d="M698.40 383.16L706.07 371.69A48.00 48.00 0 0 1 719.31 384.93L707.84 392.60A34.20 34.20 0 0 0 698.40 383.16Z" fill="#4a70db"/>
<path d="M706.07 371.69L715.51 357.55A65.00 65.00 0 0 1 733.45 375.49L719.31 384.93A48.00 48.00 0 0 0 706.07 371.69Z" fill="#60aaff"/>
<path d="M715.51 357.55L718.07 353.73A69.60 69.60 0 0 1 737.27 372.93L733.45 375.49A65.00 65.00 0 0 0 715.51 357.55Z" fill="#00ff00"/>
<path d="M718.07 353.73L718.62 352.90A70.60 70.60 0 0 1 738.10 372.38L737.27 372.93A69.60 69.60 0 0 0 718.07 353.73Z" fill="#ff0000"/>
<path d="M707.84 392.60L718.48 385.49A47.00 47.00 0 0 1 725.50 402.43L712.94 404.93A34.20 34.20 0 0 0 707.84 392.60Z" fill="#4a70db"/>
<path d="M718.48 385.49L724.30 381.60A54.00 54.00 0 0 1 732.36 401.07L725.50 402.43A47.00 47.00 0 0 0 718.48 385.49Z" fill="#60aaff"/>
<path d="M724.30 381.60L725.13 381.04A55.00 55.00 0 0 1 733.34 400.87L732.36 401.07A54.00 54.00 0 0 0 724.30 381.60Z" fill="#00ff00"/>
<path d="M712.94 404.93L721.08 403.31A42.50 42.50 0 0 1 721.08 419.89L712.94 418.27A34.20 34.20 0 0 0 712.94 404.93Z" fill="#4a70db"/>
<path d="M721.08 403.31L726.28 402.27A47.80 47.80 0 0 1 726.28 420.93L721.08 419.89A42.50 42.50 0 0 0 721.08 403.31Z" fill="#60aaff"/>
<path d="M712.94 418.27L722.06 420.09A43.50 43.50 0 0 1 715.57 435.77L707.84 430.60A34.20 34.20 0 0 0 712.94 418.27Z" fill="#4a70db"/>
<path d="M722.06 420.09L725.30 420.73A46.80 46.80 0 0 1 718.31 437.60L715.57 435.77A43.50 43.50 0 0 0 722.06 420.09Z" fill="#60aaff"/>
<path d="M707.84 430.60L714.99 435.38A42.80 42.80 0 0 1 703.18 447.19L698.40 440.04A34.20 34.20 0 0 0 707.84 430.60Z" fill="#4a70db"/>
<path d="M714.99 435.38L717.23 436.88A45.50 45.50 0 0 1 704.68 449.43L703.18 447.19A42.80 42.80 0 0 0 714.99 435.38Z" fill="#60aaff"/>
<path d="M698.40 440.04L704.85 449.68A45.80 45.80 0 0 1 688.34 456.52L686.07 445.14A34.20 34.20 0 0 0 698.40 440.04Z" fill="#4a70db"/>
<path d="M704.85 449.68L708.46 455.09A52.30 52.30 0 0 1 689.60 462.90L688.34 456.52A45.80 45.80 0 0 0 704.85 449.68Z" fill="#60aaff"/>
<path d="M708.46 455.09L709.40 456.50A54.00 54.00 0 0 1 689.93 464.56L689.60 462.90A52.30 52.30 0 0 0 708.46 455.09Z" fill="#00ff00"/>
<path d="M686.07 445.14L688.76 458.68A48.00 48.00 0 0 1 670.04 458.68L672.73 445.14A34.20 34.20 0 0 0 686.07 445.14Z" fill="#4a70db"/>
<path d="M688.76 458.68L692.72 478.59A68.30 68.30 0 0 1 666.08 478.59L670.04 458.68A48.00 48.00 0 0 0 688.76 458.68Z" fill="#60aaff"/>
<path d="M692.72 478.59L695.07 490.36A80.30 80.30 0 0 1 663.73 490.36L666.08 478.59A68.30 68.30 0 0 0 692.72 478.59Z" fill="#00ff00"/>
<path d="M695.07 490.36L695.71 493.59A83.60 83.60 0 0 1 663.09 493.59L663.73 490.36A80.30 80.30 0 0 0 695.07 490.36Z" fill="#ff0000"/>
<path d="M672.73 445.14L669.65 460.64A50.00 50.00 0 0 1 651.62 453.17L660.40 440.04A34.20 34.20 0 0 0 672.73 445.14Z" fill="#4a70db"/>
<path d="M669.65 460.64L663.07 493.69A83.70 83.70 0 0 1 632.90 481.19L651.62 453.17A50.00 50.00 0 0 0 669.65 460.64Z" fill="#60aaff"/>
<path d="M663.07 493.69L654.14 538.61A129.50 129.50 0 0 1 607.45 519.28L632.90 481.19A83.70 83.70 0 0 0 663.07 493.69Z" fill="#00ff00"/>
<path d="M654.14 538.61L646.23 578.33A170.00 170.00 0 0 1 584.95 552.95L607.45 519.28A129.50 129.50 0 0 0 654.14 538.61Z" fill="#ff0000"/>
<path d="M646.23 578.33L643.11 594.03A186.00 186.00 0 0 1 576.06 566.25L584.95 552.95A170.00 170.00 0 0 0 646.23 578.33Z" fill="#ffff00"/>
<path d="M643.11 594.03L642.14 598.93A191.00 191.00 0 0 1 573.29 570.41L576.06 566.25A186.00 186.00 0 0 0 643.11 594.03Z" fill="#ffffff"/>
<path d="M660.40 440.04L653.84 449.85A46.00 46.00 0 0 1 641.15 437.16L650.96 430.60A34.20 34.20 0 0 0 660.40 440.04Z" fill="#4a70db"/>
<path d="M653.84 449.85L640.34 470.05A70.30 70.30 0 0 1 620.95 450.66L641.15 437.16A46.00 46.00 0 0 0 653.84 449.85Z" fill="#60aaff"/>
<path d="M640.34 470.05L621.07 498.90A105.00 105.00 0 0 1 592.10 469.93L620.95 450.66A70.30 70.30 0 0 0 640.34 470.05Z" fill="#00ff00"/>
<path d="M621.07 498.90L598.29 532.99A146.00 146.00 0 0 1 558.01 492.71L592.10 469.93A105.00 105.00 0 0 0 621.07 498.90Z" fill="#ff0000"/>
<path d="M598.29 532.99L582.73 556.28A174.00 174.00 0 0 1 534.72 508.27L558.01 492.71A146.00 146.00 0 0 0 598.29 532.99Z" fill="#ffff00"/>
<path d="M582.73 556.28L578.29 562.93A182.00 182.00 0 0 1 528.07 512.71L534.72 508.27A174.00 174.00 0 0 0 582.73 556.28Z" fill="#ffffff"/>
<path d="M650.96 430.60L643.40 435.66A43.30 43.30 0 0 1 636.93 420.05L645.86 418.27A34.20 34.20 0 0 0 650.96 430.60Z" fill="#4a70db"/>
<path d="M643.40 435.66L636.16 440.49A52.00 52.00 0 0 1 628.40 421.74L636.93 420.05A43.30 43.30 0 0 0 643.40 435.66Z" fill="#60aaff"/>
<path d="M636.16 440.49L632.17 443.16A56.80 56.80 0 0 1 623.69 422.68L628.40 421.74A52.00 52.00 0 0 0 636.16 440.49Z" fill="#00ff00"/>
<path d="M632.17 443.16L630.18 444.49A59.20 59.20 0 0 1 621.34 423.15L623.69 422.68A56.80 56.80 0 0 0 632.17 443.16Z" fill="#ff0000"/>
<path d="M630.18 444.49L629.35 445.05A60.20 60.20 0 0 1 620.36 423.34L621.34 423.15A59.20 59.20 0 0 0 630.18 444.49Z" fill="#ffff00"/>
<path d="M629.35 445.05L628.43 445.66A61.30 61.30 0 0 1 619.28 423.56L620.36 423.34A60.20 60.20 0 0 0 629.35 445.05Z" fill="#ffffff"/>
<path d="M645.86 418.27L642.13 419.01A38.00 38.00 0 0 1 642.13 404.19L645.86 404.93A34.20 34.20 0 0 0 645.86 418.27Z" fill="#4a70db"/>
<path d="M642.13 419.01L640.27 419.38A39.90 39.90 0 0 1 640.27 403.82L642.13 404.19A38.00 38.00 0 0 0 642.13 419.01Z" fill="#60aaff"/>
<path d="M645.86 404.93L642.33 404.23A37.80 37.80 0 0 1 647.97 390.60L650.96 392.60A34.20 34.20 0 0 0 645.86 404.93Z" fill="#4a70db"/>
<path d="M642.33 404.23L640.46 403.85A39.70 39.70 0 0 1 646.39 389.54L647.97 390.60A37.80 37.80 0 0 0 642.33 404.23Z" fill="#60aaff"/>
<path d="M650.96 392.60L647.80 390.49A38.00 38.00 0 0 1 658.29 380.00L660.40 383.16A34.20 34.20 0 0 0 650.96 392.60Z" fill="#4a70db"/>
<path d="M647.80 390.49L646.14 389.38A40.00 40.00 0 0 1 657.18 378.34L658.29 380.00A38.00 38.00 0 0 0 647.80 390.49Z" fill="#60aaff"/>
<path d="M660.40 383.16L657.34 378.59A39.70 39.70 0 0 1 671.65 372.66L672.73 378.06A34.20 34.20 0 0 0 660.40 383.16Z" fill="#4a70db"/>
<path d="M657.34 378.59L653.95 373.52A45.80 45.80 0 0 1 670.46 366.68L671.65 372.66A39.70 39.70 0 0 0 657.34 378.59Z" fill="#60aaff"/>
<path d="M653.95 373.52L652.01 370.61A49.30 49.30 0 0 1 669.78 363.25L670.46 366.68A45.80 45.80 0 0 0 653.95 373.52Z" fill="#00ff00"/>
<path d="M652.01 370.61L650.73 368.70A51.60 51.60 0 0 1 669.33 360.99L669.78 363.25A49.30 49.30 0 0 0 652.01 370.61Z" fill="#ff0000"/>
<path d="M525.5 411.4H743M679.6 327.1V606.5"/>
<path d="M576.5 407.7V415.09999999999997"/>
<path d="M675.9 513.8H683.3000000000001"/>
<path d="M675.9 582.5H683.3000000000001"/>
<path d="M673.9 606.5H743M673.9 603.0V610.0M743 603.0V610.0"/>
<circle cx="679.4" cy="411.6" r="34.2" fill="#fff"/>
</g>
<g font-family="Liberation Sans, Arial, sans-serif" fill="#000" text-anchor="middle">
<text x="679.4" y="321.7" font-size="23">N</text>
<text x="679.4" y="409.0" font-size="11.6">Calm</text>
<text x="679.4" y="422.4" font-size="11.6">9.40 %</text>
<text x="708.4" y="603.7" font-size="11.1">10 %</text>
</g>
<g font-family="Liberation Sans, Arial, sans-serif" font-size="10.3" fill="#000">
<text x="371.1" y="159.6" font-size="10.55">Wind</text>
<text x="371.1" y="172" font-size="10.55">Speed(m/s)-Point1</text>
<rect x="371.55" y="178.90" width="20.2" height="9.7" fill="#ffffff" stroke="#000" stroke-opacity="0.5" stroke-width="1"/>
<text x="398" y="187.60">Above</text>
<text x="441" y="187.60" text-anchor="end">12</text>
<rect x="371.55" y="191.27" width="20.2" height="9.7" fill="#ffff00" stroke="#000" stroke-opacity="0.5" stroke-width="1"/>
<text x="420.39" y="199.97" text-anchor="end">10</text>
<text x="423.25" y="199.97">-</text>
<text x="441" y="199.97" text-anchor="end">12</text>
<rect x="371.55" y="203.64" width="20.2" height="9.7" fill="#ff0000" stroke="#000" stroke-opacity="0.5" stroke-width="1"/>
<text x="420.39" y="212.34" text-anchor="end">8</text>
<text x="423.25" y="212.34">-</text>
<text x="441" y="212.34" text-anchor="end">10</text>
<rect x="371.55" y="216.01" width="20.2" height="9.7" fill="#00ff00" stroke="#000" stroke-opacity="0.5" stroke-width="1"/>
<text x="420.39" y="224.71" text-anchor="end">6</text>
<text x="423.25" y="224.71">-</text>
<text x="441" y="224.71" text-anchor="end">8</text>
<rect x="371.55" y="228.38" width="20.2" height="9.7" fill="#60aaff" stroke="#000" stroke-opacity="0.5" stroke-width="1"/>
<text x="420.39" y="237.08" text-anchor="end">4</text>
<text x="423.25" y="237.08">-</text>
<text x="441" y="237.08" text-anchor="end">6</text>
<rect x="371.55" y="240.75" width="20.2" height="9.7" fill="#4a70db" stroke="#000" stroke-opacity="0.5" stroke-width="1"/>
<text x="420.39" y="249.45" text-anchor="end">2</text>
<text x="423.25" y="249.45">-</text>
<text x="441" y="249.45" text-anchor="end">4</text>
<rect x="371.55" y="253.12" width="20.2" height="9.7" fill="#ffffff" stroke="#000" stroke-opacity="0.5" stroke-width="1"/>
<text x="398" y="261.82">Below</text>
<text x="441" y="261.82" text-anchor="end">2</text>
</g>
<g font-family="Liberation Sans, Arial, sans-serif" font-size="10.3" fill="#000">
<text x="790.3" y="191.1" font-size="10.55">WindSpeed(m/s)-Point2</text>
<rect x="790.75" y="198.10" width="20.2" height="9.7" fill="#ffffff" stroke="#000" stroke-opacity="0.5" stroke-width="1"/>
<text x="817.1" y="206.80">Above</text>
<text x="860" y="206.80" text-anchor="end">12</text>
<rect x="790.75" y="210.47" width="20.2" height="9.7" fill="#ffff00" stroke="#000" stroke-opacity="0.5" stroke-width="1"/>
<text x="839.39" y="219.17" text-anchor="end">10</text>
<text x="842.25" y="219.17">-</text>
<text x="860" y="219.17" text-anchor="end">12</text>
<rect x="790.75" y="222.84" width="20.2" height="9.7" fill="#ff0000" stroke="#000" stroke-opacity="0.5" stroke-width="1"/>
<text x="839.39" y="231.54" text-anchor="end">8</text>
<text x="842.25" y="231.54">-</text>
<text x="860" y="231.54" text-anchor="end">10</text>
<rect x="790.75" y="235.21" width="20.2" height="9.7" fill="#00ff00" stroke="#000" stroke-opacity="0.5" stroke-width="1"/>
<text x="839.39" y="243.91" text-anchor="end">6</text>
<text x="842.25" y="243.91">-</text>
<text x="860" y="243.91" text-anchor="end">8</text>
<rect x="790.75" y="247.58" width="20.2" height="9.7" fill="#60aaff" stroke="#000" stroke-opacity="0.5" stroke-width="1"/>
<text x="839.39" y="256.28" text-anchor="end">4</text>
<text x="842.25" y="256.28">-</text>
<text x="860" y="256.28" text-anchor="end">6</text>
<rect x="790.75" y="259.95" width="20.2" height="9.7" fill="#4a70db" stroke="#000" stroke-opacity="0.5" stroke-width="1"/>
<text x="839.39" y="268.65" text-anchor="end">2</text>
<text x="842.25" y="268.65">-</text>
<text x="860" y="268.65" text-anchor="end">4</text>
<rect x="790.75" y="272.32" width="20.2" height="9.7" fill="#ffffff" stroke="#000" stroke-opacity="0.5" stroke-width="1"/>
<text x="817.1" y="281.02">Below</text>
<text x="860" y="281.02" text-anchor="end">2</text>
</g>
<g font-family="Liberation Sans, Arial, sans-serif" font-size="10.3" fill="#000">
<text x="328.5" y="481.7" font-size="10.55">WindSpeed(m/s)-Point3</text>
<rect x="328.95" y="489.10" width="20.2" height="9.7" fill="#ffffff" stroke="#000" stroke-opacity="0.5" stroke-width="1"/>
<text x="355.4" y="497.80">Above</text>
<text x="407.1" y="497.80" text-anchor="end">12.0</text>
<rect x="328.95" y="501.47" width="20.2" height="9.7" fill="#ffff00" stroke="#000" stroke-opacity="0.5" stroke-width="1"/>
<text x="377.90" y="510.17" text-anchor="end">10.0</text>
<text x="380.76" y="510.17">-</text>
<text x="407.1" y="510.17" text-anchor="end">12.0</text>
<rect x="328.95" y="513.84" width="20.2" height="9.7" fill="#ff0000" stroke="#000" stroke-opacity="0.5" stroke-width="1"/>
<text x="377.90" y="522.54" text-anchor="end">8.0</text>
<text x="380.76" y="522.54">-</text>
<text x="407.1" y="522.54" text-anchor="end">10.0</text>
<rect x="328.95" y="526.21" width="20.2" height="9.7" fill="#00ff00" stroke="#000" stroke-opacity="0.5" stroke-width="1"/>
<text x="377.90" y="534.91" text-anchor="end">6.0</text>
<text x="380.76" y="534.91">-</text>
<text x="407.1" y="534.91" text-anchor="end">8.0</text>
<rect x="328.95" y="538.58" width="20.2" height="9.7" fill="#60aaff" stroke="#000" stroke-opacity="0.5" stroke-width="1"/>
<text x="377.90" y="547.28" text-anchor="end">4.0</text>
<text x="380.76" y="547.28">-</text>
<text x="407.1" y="547.28" text-anchor="end">6.0</text>
<rect x="328.95" y="550.95" width="20.2" height="9.7" fill="#4a70db" stroke="#000" stroke-opacity="0.5" stroke-width="1"/>
<text x="377.90" y="559.65" text-anchor="end">2.0</text>
<text x="380.76" y="559.65">-</text>
<text x="407.1" y="559.65" text-anchor="end">4.0</text>
<rect x="328.95" y="563.32" width="20.2" height="9.7" fill="#ffffff" stroke="#000" stroke-opacity="0.5" stroke-width="1"/>
<text x="355.4" y="572.02">Below</text>
<text x="407.1" y="572.02" text-anchor="end">2.0</text>
</g>
<g font-family="Liberation Sans, Arial, sans-serif" font-size="10.3" fill="#000">
<text x="755.8" y="515.7" font-size="10.55">WindSpeed(m/s)-Point4</text>
<rect x="756.25" y="522.50" width="20.2" height="9.7" fill="#ffffff" stroke="#000" stroke-opacity="0.5" stroke-width="1"/>
<text x="782.8" y="531.20">Above</text>
<text x="855.1" y="531.20" text-anchor="end">12.000</text>
<rect x="756.25" y="534.87" width="20.2" height="9.7" fill="#ffff00" stroke="#000" stroke-opacity="0.5" stroke-width="1"/>
<text x="814.45" y="543.57" text-anchor="end">10.000</text>
<text x="817.31" y="543.57">-</text>
<text x="855.1" y="543.57" text-anchor="end">12.000</text>
<rect x="756.25" y="547.24" width="20.2" height="9.7" fill="#ff0000" stroke="#000" stroke-opacity="0.5" stroke-width="1"/>
<text x="814.45" y="555.94" text-anchor="end">8.000</text>
<text x="817.31" y="555.94">-</text>
<text x="855.1" y="555.94" text-anchor="end">10.000</text>
<rect x="756.25" y="559.61" width="20.2" height="9.7" fill="#00ff00" stroke="#000" stroke-opacity="0.5" stroke-width="1"/>
<text x="814.45" y="568.31" text-anchor="end">6.000</text>
<text x="817.31" y="568.31">-</text>
<text x="855.1" y="568.31" text-anchor="end">8.000</text>
<rect x="756.25" y="571.98" width="20.2" height="9.7" fill="#60aaff" stroke="#000" stroke-opacity="0.5" stroke-width="1"/>
<text x="814.45" y="580.68" text-anchor="end">4.000</text>
<text x="817.31" y="580.68">-</text>
<text x="855.1" y="580.68" text-anchor="end">6.000</text>
<rect x="756.25" y="584.35" width="20.2" height="9.7" fill="#4a70db" stroke="#000" stroke-opacity="0.5" stroke-width="1"/>
<text x="814.45" y="593.05" text-anchor="end">2.000</text>
<text x="817.31" y="593.05">-</text>
<text x="855.1" y="593.05" text-anchor="end">4.000</text>
<rect x="756.25" y="596.72" width="20.2" height="9.7" fill="#ffffff" stroke="#000" stroke-opacity="0.5" stroke-width="1"/>
<text x="782.8" y="605.42">Below</text>
<text x="855.1" y="605.42" text-anchor="end">2.000</text>
</g>
</svg></body></html>
